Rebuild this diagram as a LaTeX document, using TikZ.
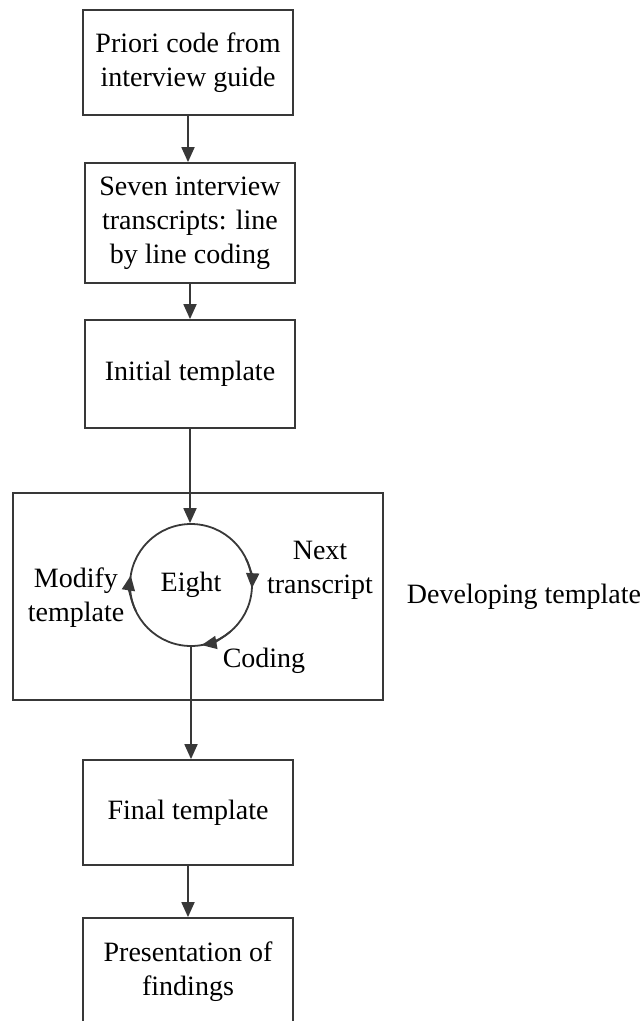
\documentclass[tikz,border=0pt]{standalone}
\usepackage{fontspec}
\setmainfont{Liberation Serif}
\usetikzlibrary{arrows.meta}
\begin{document}
\begin{tikzpicture}[x=1pt,y=1pt,
  ln/.style={draw=black!78, line width=1.8pt},
  txt/.style={font=\fontsize{28}{34}\selectfont, align=center, inner sep=0pt},
  box/.style={ln, txt, rectangle, minimum width=210pt},
  arr/.style={ln, -{Triangle[length=15pt,width=13pt]}},
]
\useasboundingbox (0,0) rectangle (643,-1021);
\fill[white] (0,0) rectangle (643,-1021);
% boxes
\node[box, minimum height=105pt] (b1) at (188,-62.5) {Priori code from\\interview guide};
\node[box, minimum height=120pt] (b2) at (190,-223) {Seven interview\\transcripts: line\\by line coding};
\node[box, minimum height=108pt] (b3) at (190,-374) {Initial template};
\node[ln, rectangle, minimum width=370pt, minimum height=207pt] (dev) at (198,-596.5) {};
\node[txt] (devl) at (524,-597) {Developing template};
\node[ln, txt, circle, minimum size=122pt] (cyc) at (191,-585) {Eight};
\node[txt] (next) at (320,-570) {Next\\transcript};
\node[txt] (mod) at (76,-598) {Modify\\template};
\node[txt] (cod) at (264,-661) {Coding};
\node[box, minimum height=105pt] (b4) at (188,-812.5) {Final template};
\node[box, minimum height=108pt] (b5) at (188,-972) {Presentation of\\findings};
% connectors
\draw[arr] (b1.south) -- (b1.south |- b2.north);
\draw[arr] (b2.south) -- (b2.south |- b3.north);
\draw[arr] (b3.south) -- (b3.south |- cyc.north);
\draw[arr] (cyc.south) -- (cyc.south |- b4.north);
\draw[arr] (b4.south) -- (b4.south |- b5.north);
% cycle arrows
\draw[arr] ([shift={(25:61)}]cyc.center) arc[start angle=25, end angle=-3, radius=61];
\draw[arr] ([shift={(-50:61)}]cyc.center) arc[start angle=-50, end angle=-80, radius=61];
\draw[arr] ([shift={(205:61)}]cyc.center) arc[start angle=205, end angle=171, radius=61];
\end{tikzpicture}
\end{document}
